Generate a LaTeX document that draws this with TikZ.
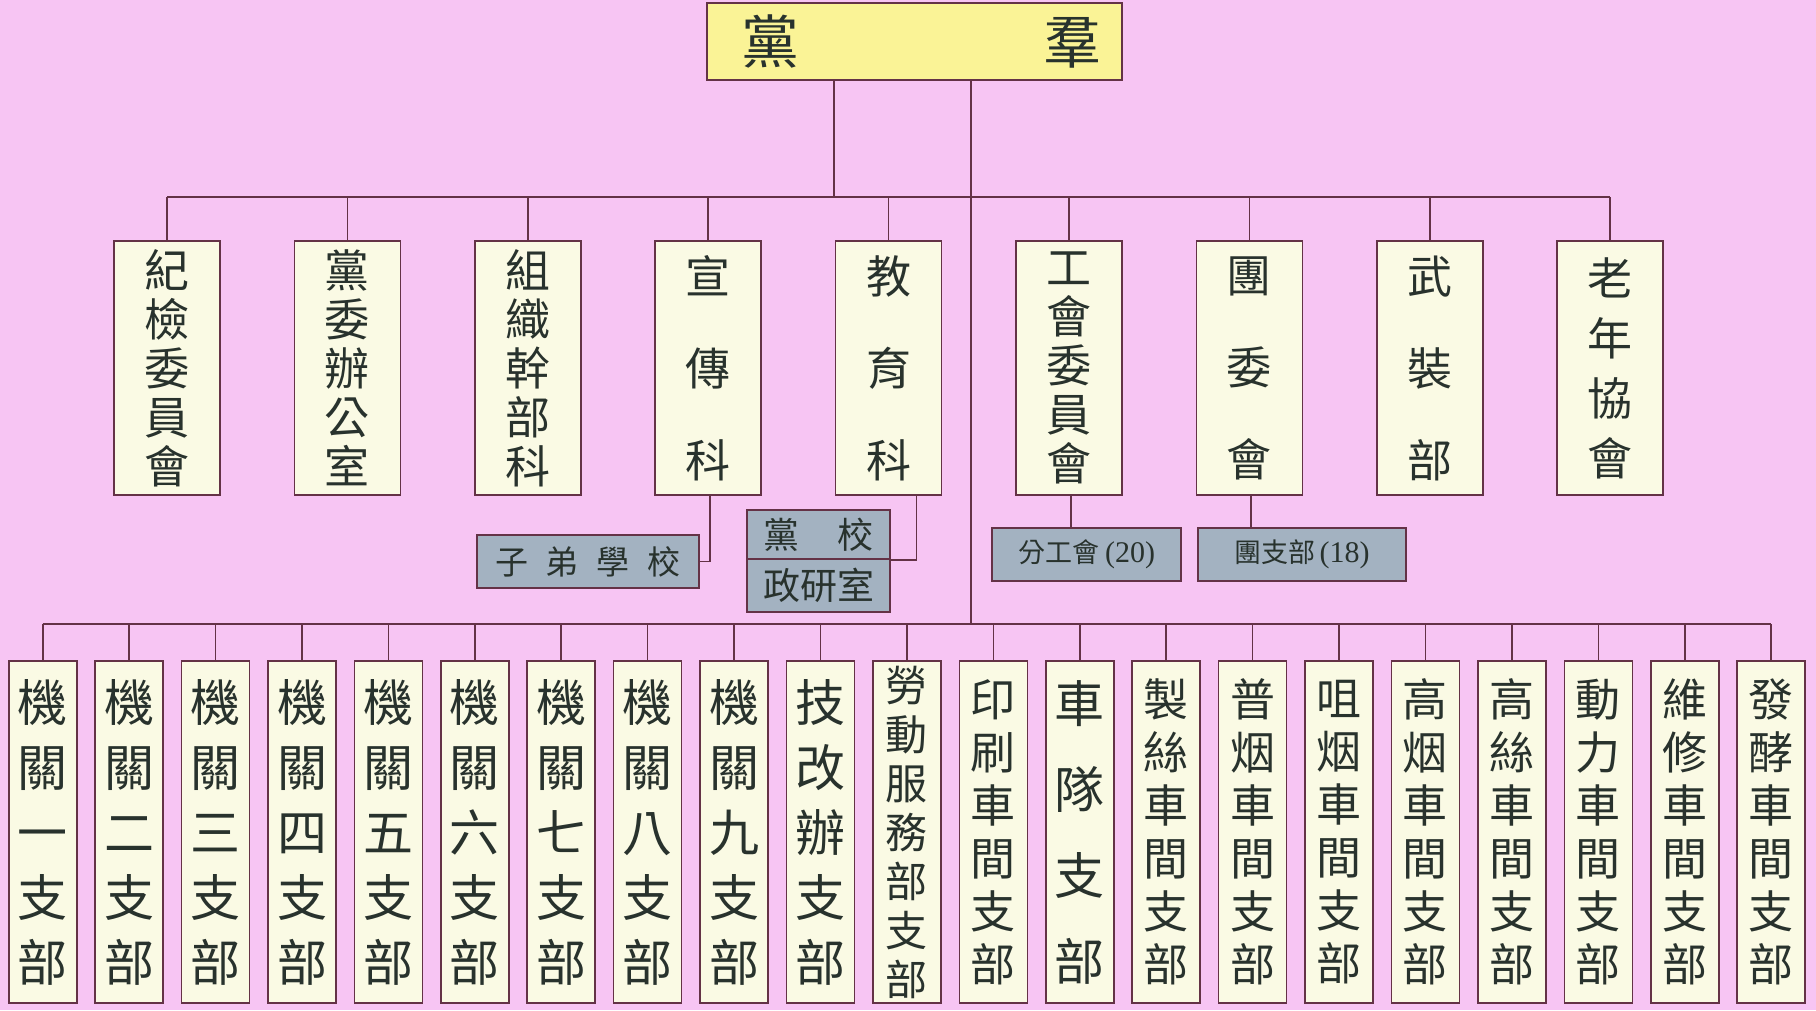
\documentclass[tikz,border=0pt]{standalone}
\usepackage{fontspec}
\setmainfont{Liberation Serif}
\newfontfamily\cjk{Noto Sans CJK TC}
\definecolor{bgpink}{RGB}{247,197,243}
\definecolor{topy}{RGB}{250,243,150}
\definecolor{cream}{RGB}{250,250,228}
\definecolor{subb}{RGB}{163,178,193}
\definecolor{linec}{RGB}{100,50,70}
\definecolor{txtc}{RGB}{40,50,45}
\tikzset{
  conn/.style={draw=linec, line width=1.6pt},
  boxbase/.style={draw=linec, line width=1.6pt, inner sep=0pt, align=center, text=txtc},
  topbox/.style={boxbase, fill=topy, line width=1.8pt, minimum width=415pt, minimum height=77pt},
  midbox/.style={boxbase, fill=cream, minimum width=106pt, minimum height=254pt},
  botbox/.style={boxbase, fill=cream, minimum width=68pt, minimum height=342pt},
  subbox/.style={boxbase, fill=subb},
  toptxt/.style={text=txtc, inner sep=0pt, font=\cjk\fontsize{58pt}{58pt}\selectfont},
  mfive/.style={font=\cjk\fontsize{45pt}{49pt}\selectfont},
  mthree/.style={font=\cjk\fontsize{45pt}{92pt}\selectfont},
  mfour/.style={font=\cjk\fontsize{45pt}{60pt}\selectfont},
  bfive/.style={font=\cjk\fontsize{50pt}{65pt}\selectfont},
  bfour/.style={font=\cjk\fontsize{50pt}{86pt}\selectfont},
  bsix/.style={font=\cjk\fontsize{45pt}{53pt}\selectfont},
  bseven/.style={font=\cjk\fontsize{42pt}{49pt}\selectfont},
}
\begin{document}
\begin{tikzpicture}[x=1pt,y=-1pt]
\useasboundingbox (0,0) rectangle (1816,1010);
\fill[bgpink] (0,0) rectangle (1816,1010);

% top
\node[topbox] (top) at (914.5,41.5) {};
\node[toptxt] (toptext) at (921,41) {黨\hspace{244pt}羣};

% middle row
\node[midbox,mfive]  (m1) at (167,368)    {紀\\檢\\委\\員\\會};
\node[midbox,mfive]  (m2) at (347.4,368)  {黨\\委\\辦\\公\\室};
\node[midbox,mfive]  (m3) at (527.8,368)  {組\\織\\幹\\部\\科};
\node[midbox,mthree] (m4) at (708.2,368)  {宣\\傳\\科};
\node[midbox,mthree] (m5) at (888.6,368)  {教\\育\\科};
\node[midbox,mfive]  (m6) at (1069,368)   {工\\會\\委\\員\\會};
\node[midbox,mthree] (m7) at (1249.4,368) {團\\委\\會};
\node[midbox,mthree] (m8) at (1429.8,368) {武\\裝\\部};
\node[midbox,mfour]  (m9) at (1610.2,368) {老\\年\\協\\會};

% sub boxes
\node[subbox, minimum width=222pt, minimum height=53pt, font=\cjk\fontsize{33pt}{33pt}\selectfont] (zidi) at (588,561.5)
  {子\hspace{18pt}弟\hspace{18pt}學\hspace{18pt}校};
\node[subbox, minimum width=143pt, minimum height=49pt, font=\cjk\fontsize{36pt}{36pt}\selectfont] (dxtop) at (818.5,534.5)
  {黨\hspace{38pt}校};
\node[subbox, minimum width=143pt, minimum height=53pt, font=\cjk\fontsize{37pt}{37pt}\selectfont] (dxbot) at (818.5,585.5)
  {政研室};
\node[subbox, minimum width=189pt, minimum height=53pt, font=\fontsize{30pt}{30pt}\selectfont] (fgh) at (1086.5,554.5)
  {{\cjk\fontsize{27pt}{27pt}\selectfont 分工會}\hspace{6pt}(20)};
\node[subbox, minimum width=208pt, minimum height=53pt, font=\fontsize{30pt}{30pt}\selectfont] (tzb) at (1302,554.5)
  {{\cjk\fontsize{27pt}{27pt}\selectfont 團支部}\hspace{4pt}(18)};

% bottom row
\node[botbox,bfive]  (b1)  at (42.7,832)   {機\\關\\一\\支\\部};
\node[botbox,bfive]  (b2)  at (129.1,832)  {機\\關\\二\\支\\部};
\node[botbox,bfive]  (b3)  at (215.5,832)  {機\\關\\三\\支\\部};
\node[botbox,bfive]  (b4)  at (302.0,832)  {機\\關\\四\\支\\部};
\node[botbox,bfive]  (b5)  at (388.4,832)  {機\\關\\五\\支\\部};
\node[botbox,bfive]  (b6)  at (474.8,832)  {機\\關\\六\\支\\部};
\node[botbox,bfive]  (b7)  at (561.2,832)  {機\\關\\七\\支\\部};
\node[botbox,bfive]  (b8)  at (647.6,832)  {機\\關\\八\\支\\部};
\node[botbox,bfive]  (b9)  at (734.1,832)  {機\\關\\九\\支\\部};
\node[botbox,bfive]  (b10) at (820.5,832)  {技\\改\\辦\\支\\部};
\node[botbox,bseven] (b11) at (906.9,832)  {勞\\動\\服\\務\\部\\支\\部};
\node[botbox,bsix]   (b12) at (993.3,832)  {印\\刷\\車\\間\\支\\部};
\node[botbox,bfour]  (b13) at (1079.7,832) {車\\隊\\支\\部};
\node[botbox,bsix]   (b14) at (1166.2,832) {製\\絲\\車\\間\\支\\部};
\node[botbox,bsix]   (b15) at (1252.6,832) {普\\烟\\車\\間\\支\\部};
\node[botbox,bsix]   (b16) at (1339.0,832) {咀\\烟\\車\\間\\支\\部};
\node[botbox,bsix]   (b17) at (1425.4,832) {高\\烟\\車\\間\\支\\部};
\node[botbox,bsix]   (b18) at (1511.8,832) {高\\絲\\車\\間\\支\\部};
\node[botbox,bsix]   (b19) at (1598.3,832) {動\\力\\車\\間\\支\\部};
\node[botbox,bsix]   (b20) at (1684.7,832) {維\\修\\車\\間\\支\\部};
\node[botbox,bsix]   (b21) at (1771.1,832) {發\\酵\\車\\間\\支\\部};

% connector coordinates
\coordinate (tA) at (834,197);
\coordinate (tB) at (971,624);
\coordinate (mL) at (167,197);
\coordinate (mR) at (1610.2,197);
\coordinate (bL) at (42.7,624);
\coordinate (bR) at (1771.1,624);

% connectors
\draw[conn] (top.south -| tA) -- (tA);
\draw[conn] (top.south -| tB) -- (tB);
\draw[conn] (mL) -- (mR);
\foreach \n in {m1,m2,m3,m4,m5,m6,m7,m8,m9}
  \draw[conn] (\n.north) -- (\n.north |- mL);
\draw[conn] (bL) -- (bR);
\foreach \n in {b1,b2,b3,b4,b5,b6,b7,b8,b9,b10,b11,b12,b13,b14,b15,b16,b17,b18,b19,b20,b21}
  \draw[conn] (\n.north) -- (\n.north |- bL);
\draw[conn] ([xshift=2pt]m4.south) |- (zidi.east);
\draw[conn] ([xshift=28pt]m5.south) |- (dxtop.south east);
\draw[conn] ([xshift=2pt]m6.south) -- ([xshift=2pt]m6.south |- fgh.north);
\draw[conn] ([xshift=1.5pt]m7.south) -- ([xshift=1.5pt]m7.south |- tzb.north);
\end{tikzpicture}
\end{document}
